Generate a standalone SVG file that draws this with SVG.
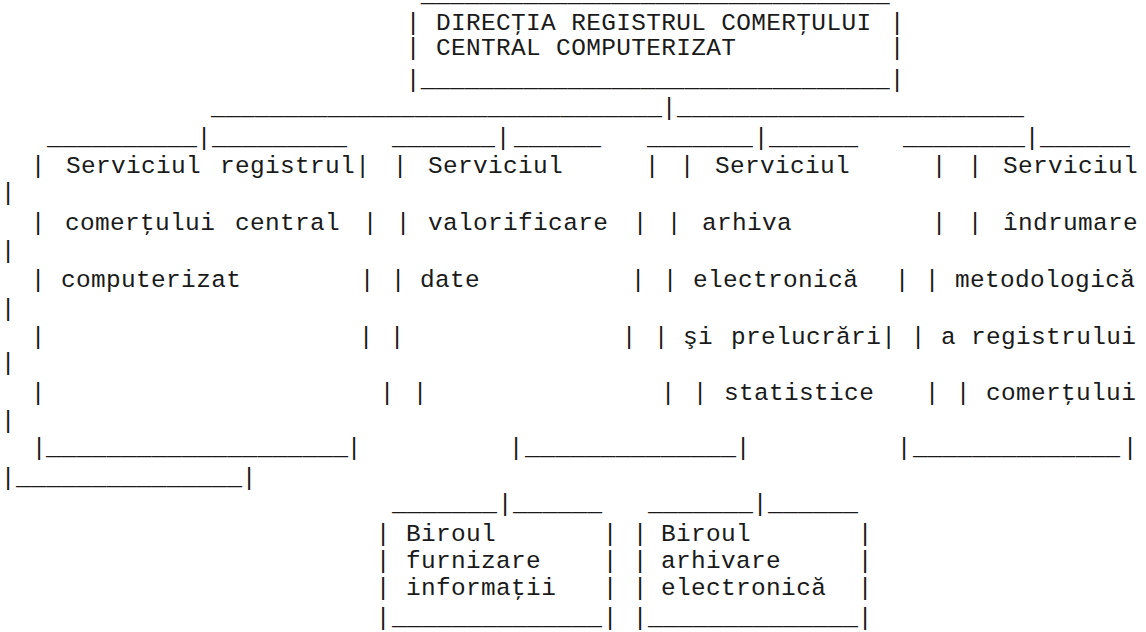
<svg xmlns="http://www.w3.org/2000/svg" width="1146" height="632" viewBox="0 0 1146 632">
<style>
text { font-family: "Liberation Mono", "Courier New", monospace; font-size: 24.45px; fill: #1a1a1a; white-space: pre; }
.c { text-anchor: middle; }
.w { letter-spacing: 0.35px; }
</style>
<rect width="1146" height="632" fill="#fff"/>
<g id="node-directia">
<text x="420.7" y="2" textLength="469" lengthAdjust="spacingAndGlyphs">________________________________</text>
<text class="c" x="413" y="30">|</text>
<text class="w" x="436" y="30">DIRECŢIA REGISTRUL COMERŢULUI</text>
<text class="c" x="897" y="30">|</text>
<text class="c" x="413" y="55">|</text>
<text class="w" x="436" y="55">CENTRAL COMPUTERIZAT</text>
<text class="c" x="897" y="55">|</text>
<text class="c" x="413" y="87">|</text>
<text x="420.7" y="87" textLength="469" lengthAdjust="spacingAndGlyphs">________________________________</text>
<text class="c" x="897" y="87">|</text>
</g>
<g id="connectors">
<text x="211" y="115" textLength="451" lengthAdjust="spacingAndGlyphs">_______________________________</text>
<text class="c" x="669" y="115">|</text>
<text x="677" y="115" textLength="347" lengthAdjust="spacingAndGlyphs">________________________</text>
<text x="47" y="145" textLength="150" lengthAdjust="spacingAndGlyphs">__________</text>
<text class="c" x="204" y="145">|</text>
<text x="212" y="145" textLength="135" lengthAdjust="spacingAndGlyphs">_________</text>
<text x="392" y="145" textLength="103" lengthAdjust="spacingAndGlyphs">_______</text>
<text class="c" x="503" y="145">|</text>
<text x="514" y="145" textLength="87" lengthAdjust="spacingAndGlyphs">______</text>
<text x="647" y="145" textLength="106" lengthAdjust="spacingAndGlyphs">_______</text>
<text class="c" x="761" y="145">|</text>
<text x="769" y="145" textLength="89" lengthAdjust="spacingAndGlyphs">______</text>
<text x="903" y="145" textLength="122" lengthAdjust="spacingAndGlyphs">________</text>
<text class="c" x="1032" y="145">|</text>
<text x="1040" y="145" textLength="90" lengthAdjust="spacingAndGlyphs">______</text>
<text x="392" y="511" textLength="105" lengthAdjust="spacingAndGlyphs">_______</text>
<text class="c" x="505" y="511">|</text>
<text x="513" y="511" textLength="89" lengthAdjust="spacingAndGlyphs">______</text>
<text x="648" y="511" textLength="105" lengthAdjust="spacingAndGlyphs">_______</text>
<text class="c" x="760" y="511">|</text>
<text x="768" y="511" textLength="90" lengthAdjust="spacingAndGlyphs">______</text>
</g>
<g id="node-serviciul-registru">
<text class="c" x="38" y="173">|</text>
<text class="w" x="66" y="173">Serviciul</text>
<text class="w" x="220" y="173">registrul|</text>
<text class="c" x="38" y="230">|</text>
<text class="w" x="65" y="230">comerţului</text>
<text class="w" x="235" y="230">central</text>
<text class="c" x="370" y="230">|</text>
<text class="c" x="38" y="287">|</text>
<text class="w" x="61" y="287">computerizat</text>
<text class="c" x="367" y="287">|</text>
<text class="c" x="38" y="344">|</text>
<text class="c" x="366" y="344">|</text>
<text class="c" x="38" y="400">|</text>
<text class="c" x="387" y="400">|</text>
<text class="c" x="39" y="455">|</text>
<text x="46" y="455" textLength="302" lengthAdjust="spacingAndGlyphs">____________________</text>
<text class="c" x="354" y="455">|</text>
</g>
<g id="node-serviciul-valorificare">
<text class="c" x="400" y="173">|</text>
<text class="w" x="428" y="173">Serviciul</text>
<text class="c" x="652" y="173">|</text>
<text class="c" x="403" y="230">|</text>
<text class="w" x="428" y="230">valorificare</text>
<text class="c" x="640" y="230">|</text>
<text class="c" x="398" y="287">|</text>
<text class="w" x="420" y="287">date</text>
<text class="c" x="638" y="287">|</text>
<text class="c" x="397" y="344">|</text>
<text class="c" x="629" y="344">|</text>
<text class="c" x="420" y="400">|</text>
<text class="c" x="668" y="400">|</text>
<text class="c" x="516" y="455">|</text>
<text x="525" y="455" textLength="211" lengthAdjust="spacingAndGlyphs">______________</text>
<text class="c" x="743" y="455">|</text>
</g>
<g id="node-serviciul-arhiva">
<text class="c" x="687" y="173">|</text>
<text class="w" x="715" y="173">Serviciul</text>
<text class="c" x="939" y="173">|</text>
<text class="c" x="674" y="230">|</text>
<text class="w" x="702" y="230">arhiva</text>
<text class="c" x="939" y="230">|</text>
<text class="c" x="670" y="287">|</text>
<text class="w" x="693" y="287">electronică</text>
<text class="c" x="902" y="287">|</text>
<text class="c" x="661" y="344">|</text>
<text class="w" x="683" y="344">şi</text>
<text class="w" x="731" y="344">prelucrări|</text>
<text class="c" x="700" y="400">|</text>
<text class="w" x="724" y="400">statistice</text>
<text class="c" x="932" y="400">|</text>
<text class="c" x="904" y="455">|</text>
<text x="913" y="455" textLength="207" lengthAdjust="spacingAndGlyphs">______________</text>
<text class="c" x="1130" y="455">|</text>
</g>
<g id="node-serviciul-indrumare">
<text class="c" x="975" y="173">|</text>
<text class="w" x="1003" y="173">Serviciul</text>
<text class="c" x="8" y="200">|</text>
<text class="c" x="975" y="230">|</text>
<text class="w" x="1003" y="230">îndrumare</text>
<text class="c" x="8" y="258">|</text>
<text class="c" x="932" y="287">|</text>
<text class="w" x="955" y="287">metodologică</text>
<text class="c" x="8" y="316">|</text>
<text class="c" x="918" y="344">|</text>
<text class="w" x="941" y="344">a registrului</text>
<text class="c" x="8" y="370">|</text>
<text class="c" x="963" y="400">|</text>
<text class="w" x="986" y="400">comerţului</text>
<text class="c" x="8" y="428">|</text>
<text class="c" x="8" y="485">|</text>
<text x="16" y="485" textLength="226" lengthAdjust="spacingAndGlyphs">_______________</text>
<text class="c" x="249" y="485">|</text>
</g>
<g id="node-birou-furnizare">
<text class="c" x="383" y="541">|</text>
<text class="w" x="406" y="541">Biroul</text>
<text class="c" x="610" y="541">|</text>
<text class="c" x="383" y="568">|</text>
<text class="w" x="406" y="568">furnizare</text>
<text class="c" x="610" y="568">|</text>
<text class="c" x="383" y="595">|</text>
<text class="w" x="406" y="595">informaţii</text>
<text class="c" x="610" y="595">|</text>
<text class="c" x="383" y="625">|</text>
<text x="392" y="625" textLength="210" lengthAdjust="spacingAndGlyphs">______________</text>
<text class="c" x="610" y="625">|</text>
</g>
<g id="node-birou-arhivare">
<text class="c" x="640" y="541">|</text>
<text class="w" x="661" y="541">Biroul</text>
<text class="c" x="865" y="541">|</text>
<text class="c" x="640" y="568">|</text>
<text class="w" x="661" y="568">arhivare</text>
<text class="c" x="865" y="568">|</text>
<text class="c" x="640" y="595">|</text>
<text class="w" x="661" y="595">electronică</text>
<text class="c" x="865" y="595">|</text>
<text class="c" x="640" y="625">|</text>
<text x="648" y="625" textLength="210" lengthAdjust="spacingAndGlyphs">______________</text>
<text class="c" x="865" y="625">|</text>
</g>
</svg>
